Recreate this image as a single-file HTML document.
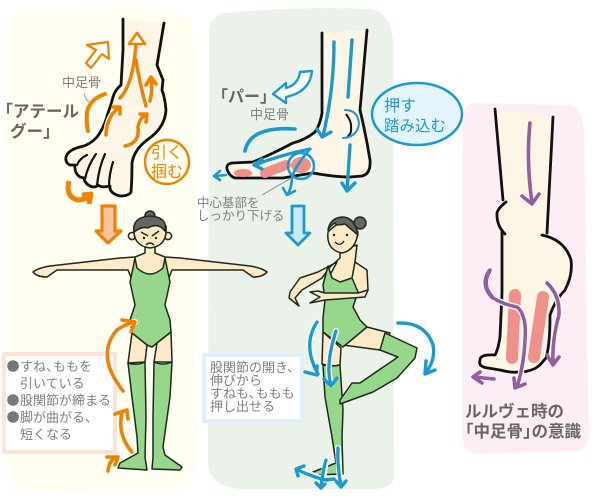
<!DOCTYPE html>
<html><head><meta charset="utf-8"><style>
html,body{margin:0;padding:0;background:#fff}
svg{display:block}
text{font-family:"Liberation Sans","Noto Sans CJK JP",sans-serif}
.k{fill:none;stroke:#111;stroke-width:2.8;stroke-linecap:round;stroke-linejoin:round}
.d{stroke:#1c2a1c;stroke-width:1.5;stroke-linejoin:round;stroke-linecap:round}
.sk{fill:#fee9c8}.gr{fill:#97d78b}
.o{fill:none;stroke:#ef8200;stroke-width:3.6;stroke-linecap:round;stroke-linejoin:round}
.b{fill:none;stroke:#1b9ad0;stroke-width:3.4;stroke-linecap:round;stroke-linejoin:round}
.p{fill:none;stroke:#955f9f;stroke-width:3.6;stroke-linecap:round;stroke-linejoin:round}
.halo{fill:none;stroke:#fff;stroke-width:6;stroke-linecap:round;stroke-linejoin:round}
.t{fill:#808080;font-size:13px}
.tb{fill:#666;font-size:16.5px;font-weight:bold}
</style></head><body>
<svg width="600" height="500" viewBox="0 0 600 500" xmlns="http://www.w3.org/2000/svg">
<!-- panels -->
<path d="M20 13Q100 5 165 8Q192 12 195 40L195 470Q192 488 170 490L30 491Q8 488 6 465L6 30Q7 16 20 13Z" fill="#fffef0"/>
<path d="M225 13Q300 6 370 9Q390 12 393 40L394 478Q392 488 375 489L240 489Q210 486 208 465L209 30Q210 16 225 13Z" fill="#eaf2ea"/>
<path d="M475 103L570 105Q582 108 584 130L589 435Q588 450 575 451L480 454Q464 454 463 440L463 115Q465 104 475 103Z" fill="#fdeef6"/>

<!-- left foot -->
<path d="M123 19L164 23L157 65L163 80L162 90L166 110L160 127L140 143L132 157L132 193L120 196L110 192L93 187L80 177L70 165L65 160L73 150L97 137L108 113L113 97L121 85Z" fill="#fdf5e6"/>
<path class="k" d="M123 19L123 50L121 85Q115 90 113 97Q110 108 108 113Q104 128 97 137Q90 145 80 147Q68 150 66 157Q65 163 70 165L75 165Q74 173 80 177L84 178Q85 185 93 187Q97 187 98 185Q101 188 110 186Q109 193 120 196Q129 196 131 192Q132 180 132 163Q134 150 147 140Q165 128 166 110Q165 98 162 90L163 80L157 65L164 23"/>
<path class="k" style="stroke-width:2.2" d="M77 165Q80 158 87 155M85 179Q88 165 96 154M97 185Q99 167 105 154M109 186Q109 175 113 162"/>
<path class="halo" d="M120 98Q133 85 136 44M146 106Q140 85 136 60M106 135Q107 115 120 107M125 146Q140 143 138 127Q140 117 147 114M150 101Q153 90 151 78"/>
<path class="o" d="M120 98Q133 85 136 44"/><path class="o" d="M146 106Q140 85 136 60"/>
<path d="M129 44L137 33L145 44Z" fill="#fff" stroke="#ef8200" stroke-width="2.6" stroke-linejoin="round"/>
<path class="o" d="M106 135Q107 115 120 107M113 107L120 107L120 114"/>
<path class="o" d="M125 146Q140 143 138 127Q140 117 147 114M140 114L147 114L146 122"/>
<path class="o" d="M150 101Q153 90 151 78M146 85L151 77L156 84"/>
<path d="M87 45L108 42L109 59L102 54L91 68L86 63L96 50Z" fill="#fff" stroke="#ef8200" stroke-width="2.2" stroke-linejoin="round"/>
<path d="M105 94Q90 99 87 112Q86 122 88 131" fill="none" stroke="#ef8200" stroke-width="4" stroke-linecap="round"/>
<path d="M84 93Q85 99 89 102" fill="none" stroke="#999" stroke-width="1"/>
<path d="M69 181Q65 197 78 200Q86 200 91 195M82 195L91 194L89 204" fill="none" stroke="#ef8200" stroke-width="5" stroke-linejoin="round"/>
<text x="62" y="87" class="t">中足骨</text>
<text x="-3.5" y="117" class="tb">「アテール</text>
<text x="10" y="137" class="tb">グー」</text>
<circle cx="167" cy="162" r="22" fill="#fffef0" stroke="#ef8200" stroke-width="2.4"/>
<text x="167" y="158" text-anchor="middle" fill="#ef8200" style="font-size:16px">引く</text>
<text x="167" y="177" text-anchor="middle" fill="#ef8200" style="font-size:16px">掴む</text>
<path d="M102 206H115V231H121L108 243L96 231H102Z" fill="#f4c3a5" stroke="#ef8200" stroke-width="3.2" stroke-linejoin="round"/>

<!-- pink box -->
<rect x="4" y="354" width="111" height="98" fill="#fff" stroke="#fbe3da" stroke-width="4"/>
<circle cx="13" cy="366" r="5.8" fill="#777"/><circle cx="13" cy="400" r="5.8" fill="#777"/><circle cx="13" cy="417" r="5.8" fill="#777"/>
<text x="20" y="371" class="t">すね<tspan>、</tspan><tspan dx="-6">ももを</tspan></text>
<text x="20" y="388" class="t">引いている</text>
<text x="20" y="405" class="t">股関節が締まる</text>
<text x="20" y="422" class="t">脚が曲がる、</text>
<text x="20" y="439" class="t">短くなる</text>

<!-- left dancer -->
<path class="sk d" d="M145 245L145 253L135 257L120 258L85 262L50 266Q38 268 33 272Q37 277 47 277L57 270L85 270L128 270L132 280L168 280L172 270L215 270L243 270L253 277Q263 277 267 272Q262 268 250 266L215 262L180 258L165 257L155 253L155 245Z"/>
<path class="gr d" d="M135 258L133 268L130 282L135 305L130 320L132 333L147 345L152 347L157 343L171 332L170 320L165 305L170 282L167 268L165 258L163 268Q150 280 137 268Z"/>
<path class="sk d" d="M132 333L147 345L145 362L128 363Z"/>
<path class="sk d" d="M171 332L157 343L154 362L172 362Z"/>
<path class="gr d" d="M128 363Q137 366 145 362L146 417L145 457L147 470L118 468L120 463L138 453L137 437L132 397Z"/>
<path class="gr d" d="M154 362Q163 366 172 362L170 397L163 447L165 455L182 467L180 470L152 469L153 457L153 417Z"/>
<circle cx="132" cy="236" r="3.6" class="sk d"/><circle cx="168" cy="236" r="3.6" class="sk d"/>
<path class="sk d" d="M134 226Q132 246 150 248Q168 246 166 226Q150 216 134 226Z"/>
<circle cx="150" cy="216" r="5" fill="#666" class="d"/>
<path d="M134 232Q132 217 150 216Q168 217 165 231Q158 222 148 228Q142 226 134 232Z" fill="#666" class="d"/>
<path d="M141 232L148 236M159 231L152 236M146 245Q150 241 154 245" fill="none" stroke="#222" stroke-width="1.4"/>
<circle cx="144" cy="238" r="1.2" fill="#222"/><circle cx="156" cy="238" r="1.2" fill="#222"/>
<path class="halo" d="M123 391Q95 355 117 330Q125 324 135 322"/>
<path class="o" d="M123 391Q95 355 117 330Q125 324 135 322M122 320L135 322L131 332"/>
<path class="halo" d="M132 452Q117 435 122 412"/>
<path class="o" d="M132 452Q117 435 122 412M115 414L127 410L128 419"/>
<path class="o" d="M108 471Q109 461 116 457M107 457L118 457L115 465"/>

<!-- middle foot -->
<path d="M322 33L367 30L360 110L370 160L368 175L350 177L313 173L283 178L235 178L227 168L228 163L253 162L293 143L315 132L322 113Z" fill="#fdf5e6"/>
<path class="k" d="M322 33L322 113Q320 125 315 132Q305 140 293 143Q270 155 253 162L232 163Q226 164 227 169Q229 176 235 178L283 178Q300 175 313 173Q335 177 350 177L362 176Q371 174 370 160Q366 135 360 110L367 30"/>
<ellipse cx="243" cy="173" rx="9" ry="4" fill="#ef8f88"/>
<path d="M265 173L286 165" stroke="#ef8f88" stroke-width="10" stroke-linecap="round"/>
<ellipse cx="301" cy="165" rx="10" ry="8" fill="#ef8f88"/>
<path d="M346 114Q352 122 351 128Q352 134 346 138" fill="none" stroke="#111" stroke-width="2"/>
<path class="b" d="M334 42Q334 90 323 136M317 129L322 137L331 132"/>
<path class="b" d="M352 40L348 97"/>
<path class="b" d="M345 110Q358 110 359 124Q357 137 343 138" style="stroke-width:2"/>
<path class="b" d="M350 145L347 191M342 183L347 191L355 183"/>
<path class="halo" d="M310 150Q280 155 255 165"/>
<path class="b" d="M310 149Q280 155 255 165M262 159L254 165L262 169"/>
<circle cx="301" cy="166" r="13" fill="none" stroke="#1b9ad0" stroke-width="2.5"/>
<path class="b" d="M310 149Q296 165 292 177Q292 186 288 194M283 188L287 195L295 191" style="stroke-width:2.6"/>
<path class="b" d="M226 175L215 176M220 171L214 176L220 180" style="stroke-width:2.6"/>
<path class="b" d="M245 151Q250 126 295 129" style="stroke-width:3.6"/>
<path d="M273 94L286 83L286 88Q298 85 300 72L312 71Q310 92 286 97L286 103Z" fill="#fff" stroke="#1b9ad0" stroke-width="2.4" stroke-linejoin="round"/>
<text x="212" y="102" class="tb" style="font-size:16px">「パー」</text>
<text x="250" y="119" class="t">中足骨</text>
<line x1="262" y1="195" x2="293" y2="177" stroke="#888" stroke-width="1"/>
<text x="197" y="207" class="t" style="font-size:12.5px">中心基部を</text>
<text x="197" y="220" class="t" style="font-size:12.5px">しっかり下げる</text>
<ellipse cx="417" cy="114" rx="45" ry="31" fill="#e3f4fb" stroke="#1b9ad0" stroke-width="2.5"/>
<text x="384" y="111" fill="#1b9ad0" style="font-size:16px">押す</text>
<text x="384" y="131" fill="#1b9ad0" style="font-size:15.5px">踏み込む</text>
<path d="M292 206H304V233H310L298 245L286 233H292Z" fill="#cce8f8" stroke="#1b9ad0" stroke-width="2.8" stroke-linejoin="round"/>

<!-- middle dancer -->
<path class="sk d" d="M337 262L318 272L300 278L290 292L289 298L299 306L295 298L302 290L322 278L330 267L340 258L340 250L357 245L355 262L367 270L368 290L358 294L326 294L330 275Z"/>
<path class="sk d" d="M323 332L322 364Q331 367 340 365L341 348Z"/>
<path class="sk d" d="M367 327L390 333L380 350L343 345Z"/>
<path class="gr d" d="M328 266L332 278L340 282L352 278L355 262L352 278L358 292L353 307L360 320L367 327L343 347L323 332L323 318L325 300L323 285Z"/>
<path class="sk d" d="M368 290L358 293L325 293L318 291L310 292L320 297L310 303L325 300L365 297Z"/>
<path class="gr d" d="M323 365Q331 367 340 365L343 410L342 437L343 474L315 475L313 472L336 463L332 437L325 397Z"/>
<path class="gr d" d="M385 333L417 348L415 358L397 378L373 392L340 404L340 400L352 383L360 383L398 357L380 350Z"/>
<path class="sk d" d="M328 232Q326 250 342 253Q356 250 358 232Q345 214 328 232Z"/>
<circle cx="360" cy="223" r="6" fill="#666" class="d"/>
<path d="M328 230Q330 218 342 217Q355 217 358 235Q352 230 345 224Q336 226 335 223Q330 226 328 230Z" fill="#666" class="d"/>
<circle cx="334" cy="235" r="1.2" fill="#222"/><circle cx="347" cy="235" r="1.2" fill="#222"/>
<path d="M335 242Q340 247 344 241" fill="none" stroke="#222" stroke-width="1.3"/>

<!-- blue box -->
<rect x="204" y="355" width="98" height="66" fill="#fff" stroke="#e0f0fa" stroke-width="4"/>
<text x="210" y="372" class="t">股関節の開き、</text>
<text x="210" y="385" class="t">伸びから</text>
<text x="210" y="398" class="t">すねも<tspan>、</tspan><tspan dx="-6">ももも</tspan></text>
<text x="210" y="411" class="t">押し出せる</text>
<path class="halo" d="M317 322Q302 345 318 372"/>
<path class="b" d="M317 322Q302 345 318 374M305 372L317 375L317 366"/>
<path class="halo" d="M336 331Q325 365 331 385"/>
<path class="b" d="M336 331Q325 365 331 385M324 379L331 386L337 378"/>
<path class="b" d="M398 323Q425 322 433 345Q436 360 425 374M426 361L425 374L435 370"/>
<path class="halo" d="M338 448L340 484M326 460L322 486M296 469L320 478"/>
<path class="b" d="M338 448Q337 465 341 486M336 481L341 487L346 481"/>
<path class="b" d="M326 460Q323 470 321 487M316 483L321 488L325 484"/>
<path class="b" d="M296 469Q310 476 325 480L334 479M298 476L296 469L304 466"/>

<!-- right foot -->
<path d="M495 109L553 117L547 233L568 253L570 277L550 310L540 365L518 372L479 367L480 357L495 355L500 337L502 293L502 232L497 215L503 200Z" fill="#fdf5e6"/>
<path class="k" d="M495 109L503 200M506 202Q496 210 497 215Q497 226 505 234M502 232L502 293L500 337Q498 350 495 355Q480 354 480 360Q478 367 488 368L500 370Q512 373 518 372Q532 372 540 365L546 358Q550 345 550 315Q555 300 565 290Q573 275 571 260Q565 240 542 235M547 233L553 117"/>
<path d="M515 295L512 358" stroke="#f0908a" stroke-width="12" stroke-linecap="round"/>
<path d="M543 297L534 357" stroke="#f0908a" stroke-width="12" stroke-linecap="round"/>
<path class="p" d="M530 123Q526 160 532 203M522 196L532 204L539 194"/>
<path class="halo" d="M490 270Q480 285 493 298Q505 305 517 307Q527 315 525 340Q524 365 517 387"/>
<path class="p" d="M490 270Q480 285 493 298Q505 305 517 307Q527 315 525 340Q524 365 517 387M514 378L515 388L525 384"/>
<path d="M490 270Q480 285 493 298" fill="none" stroke="#955f9f" stroke-width="4.4"/>
<path class="halo" d="M547 283Q560 295 559 315Q552 340 553 363"/>
<path class="p" d="M547 283Q560 295 559 315Q552 340 553 363M547 355L553 365L559 357"/>
<path class="p" d="M494 379L474 377M480 372L473 377L482 383"/>
<text x="465" y="417" class="tb">ルルヴェ時の</text>
<text x="457" y="437" class="tb">「<tspan>中足骨</tspan>」<tspan dx="-8">の意識</tspan></text>
</svg>
</body></html>
